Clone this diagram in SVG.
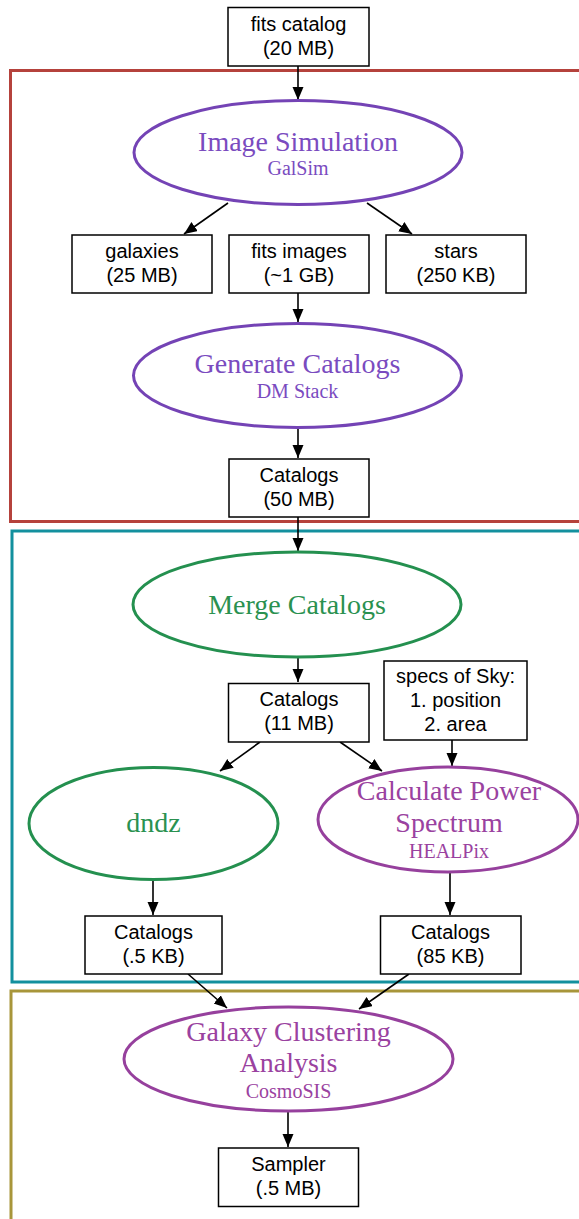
<svg xmlns="http://www.w3.org/2000/svg" width="579" height="1219" viewBox="0 0 579 1219">
<defs>
<marker id="ah" markerUnits="userSpaceOnUse" markerWidth="14" markerHeight="12" refX="13" refY="5.5" orient="auto">
<path d="M0,0 L13,5.5 L0,11 z" fill="#000"/>
</marker>
<style>
.box{fill:#fff;stroke:#000;stroke-width:1.5}
.bt{font-family:"Liberation Sans",Arial,sans-serif;font-size:20px;fill:#000;text-anchor:middle}
.main{font-family:"Liberation Serif","Times New Roman",serif;font-size:28px;text-anchor:middle}
.sub{font-family:"Liberation Serif","Times New Roman",serif;font-size:20px;text-anchor:middle}
.pu{fill:#7a4bbf}
.gr{fill:#2a9150}
.mg{fill:#9a42a0}
.ep{fill:none;stroke:#7443b5;stroke-width:3}
.eg{fill:none;stroke:#24904f;stroke-width:3}
.em{fill:none;stroke:#96409d;stroke-width:3}
.frame{fill:none;stroke-width:3}
.edge{stroke:#000;stroke-width:1.6;fill:none;marker-end:url(#ah)}
</style>
</defs>
<rect width="579" height="1219" fill="#fff"/>
<g id="clusters">
<rect class="frame" x="10.5" y="70.5" width="600" height="451" stroke="#b5423c"/>
<rect class="frame" x="12" y="531" width="600" height="451" stroke="#13909e"/>
<rect class="frame" x="11" y="991" width="600" height="300" stroke="#a8963a"/>
</g>
<g id="connectors">
<line class="edge" x1="298" y1="66" x2="298" y2="100"/>
<line class="edge" x1="228" y1="203" x2="184" y2="234"/>
<line class="edge" x1="367" y1="203" x2="412" y2="234"/>
<line class="edge" x1="298" y1="293" x2="298" y2="322"/>
<line class="edge" x1="298" y1="428" x2="298" y2="458"/>
<line class="edge" x1="298" y1="517" x2="298" y2="551"/>
<line class="edge" x1="298" y1="657" x2="298" y2="682"/>
<line class="edge" x1="260" y1="742" x2="220" y2="771"/>
<line class="edge" x1="340" y1="742" x2="382" y2="771"/>
<line class="edge" x1="452" y1="740" x2="452" y2="766"/>
<line class="edge" x1="153" y1="880" x2="153" y2="915"/>
<line class="edge" x1="450" y1="872" x2="450" y2="915"/>
<line class="edge" x1="188" y1="974" x2="227" y2="1008"/>
<line class="edge" x1="409" y1="974" x2="359" y2="1009"/>
<line class="edge" x1="288" y1="1111" x2="288" y2="1147"/>
</g>
<g id="fits_catalog">
<rect class="box" x="228" y="7.5" width="141" height="58.5"/>
<text class="bt" x="298.5" y="31">fits catalog</text>
<text class="bt" x="298.5" y="55">(20 MB)</text>
</g>
<g id="image_simulation">
<ellipse class="ep" cx="298" cy="152.5" rx="164" ry="52"/>
<text class="main pu" x="298" y="151">Image Simulation</text>
<text class="sub pu" x="298" y="175">GalSim</text>
</g>
<g id="galaxies">
<rect class="box" x="72" y="235" width="140" height="58"/>
<text class="bt" x="142" y="258">galaxies</text>
<text class="bt" x="142" y="282">(25 MB)</text>
</g>
<g id="fits_images">
<rect class="box" x="229" y="235" width="140" height="58"/>
<text class="bt" x="299" y="258">fits images</text>
<text class="bt" x="299" y="282">(~1 GB)</text>
</g>
<g id="stars">
<rect class="box" x="386" y="235" width="140" height="58"/>
<text class="bt" x="456" y="258">stars</text>
<text class="bt" x="456" y="282">(250 KB)</text>
</g>
<g id="generate_catalogs">
<ellipse class="ep" cx="297.5" cy="375.5" rx="164" ry="52"/>
<text class="main pu" x="297.5" y="373">Generate Catalogs</text>
<text class="sub pu" x="297.5" y="398">DM Stack</text>
</g>
<g id="catalogs_50">
<rect class="box" x="229" y="459" width="140" height="58"/>
<text class="bt" x="299" y="482">Catalogs</text>
<text class="bt" x="299" y="506">(50 MB)</text>
</g>
<g id="merge_catalogs">
<ellipse class="eg" cx="297" cy="604.5" rx="164" ry="52.5"/>
<text class="main gr" x="297" y="614">Merge Catalogs</text>
</g>
<g id="catalogs_11">
<rect class="box" x="228.5" y="683.5" width="140.5" height="58.5"/>
<text class="bt" x="299" y="706">Catalogs</text>
<text class="bt" x="299" y="730">(11 MB)</text>
</g>
<g id="specs_of_sky">
<rect class="box" x="384" y="661" width="143" height="79"/>
<text class="bt" x="455.5" y="683">specs of Sky:</text>
<text class="bt" x="455.5" y="707">1. position</text>
<text class="bt" x="455.5" y="731">2. area</text>
</g>
<g id="dndz">
<ellipse class="eg" cx="153.5" cy="823.5" rx="124.5" ry="56"/>
<text class="main gr" x="153.5" y="832">dndz</text>
</g>
<g id="calculate_power_spectrum">
<ellipse class="em" cx="448" cy="819.5" rx="130" ry="52.5"/>
<text class="main mg" x="449" y="800">Calculate Power</text>
<text class="main mg" x="449" y="832">Spectrum</text>
<text class="sub mg" x="449" y="858">HEALPix</text>
</g>
<g id="catalogs_05kb">
<rect class="box" x="85" y="916" width="137" height="58"/>
<text class="bt" x="153.5" y="939">Catalogs</text>
<text class="bt" x="153.5" y="963">(.5 KB)</text>
</g>
<g id="catalogs_85kb">
<rect class="box" x="380.5" y="916" width="140.5" height="58"/>
<text class="bt" x="450.5" y="939">Catalogs</text>
<text class="bt" x="450.5" y="963">(85 KB)</text>
</g>
<g id="galaxy_clustering_analysis">
<ellipse class="em" cx="288.5" cy="1059" rx="164.5" ry="52"/>
<text class="main mg" x="288.5" y="1041">Galaxy Clustering</text>
<text class="main mg" x="288.5" y="1072">Analysis</text>
<text class="sub mg" x="288.5" y="1098">CosmoSIS</text>
</g>
<g id="sampler">
<rect class="box" x="218.5" y="1148" width="140" height="58.5"/>
<text class="bt" x="288.5" y="1171">Sampler</text>
<text class="bt" x="288.5" y="1195">(.5 MB)</text>
</g>
</svg>
